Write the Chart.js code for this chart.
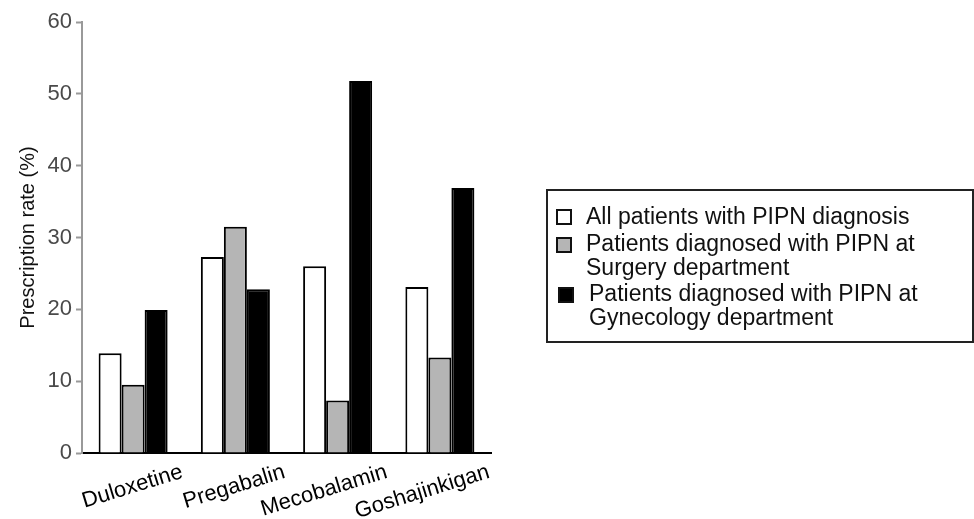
<!DOCTYPE html>
<html>
<head>
<meta charset="utf-8">
<script src="https://cdn.jsdelivr.net/npm/chart.js@4.4.1/dist/chart.umd.min.js"></script>
<style>
  html, body { margin: 0; padding: 0; background: #fff; }
  #wrap { position: relative; width: 974px; height: 519px; }
  #legend {
    position: absolute; left: 546px; top: 189px; width: 424px; height: 150px;
    border: 2px solid #222; font-family: "Liberation Sans", Arial, sans-serif;
    font-size: 23px; line-height: 24px; color: #111;
  }
  .item { position: absolute; left: 38px; }
  .box { position: absolute; width: 12px; height: 12px; border: 2px solid #111; }
</style>
</head>
<body>
<div id="wrap">
  <canvas id="chart" width="974" height="519"></canvas>
  <div id="legend"></div>
</div>
<script>
// drugs on the x axis
const categories = ["Duloxetine", "Pregabalin", "Mecobalamin", "Goshajinkigan"];
const allPatients = [13.9, 27.3, 26.0, 23.1];
const surgeryDept = [9.5, 31.5, 7.3, 13.3];
const gynecologyDept = [19.9, 22.8, 51.8, 36.9];
const yTicks = [0, 10, 20, 30, 40, 50, 60];
const seriesNames = [
  "All patients with PIPN diagnosis",
  "Patients diagnosed with PIPN at\nSurgery department",
  "Patients diagnosed with PIPN at\nGynecology department"
];
const seriesFill = ["#ffffff", "#b5b5b5", "#000000"];

const font = "'Liberation Sans', Arial, sans-serif";

const ctx = document.getElementById("chart").getContext("2d");
new Chart(ctx, {
    type: "bar",
    data: {
        labels: categories,
        datasets: [allPatients, surgeryDept, gynecologyDept].map((vals, i) => ({
            label: seriesNames[i],
            data: vals,
            backgroundColor: seriesFill[i],
            borderColor: "#000",
            borderWidth: 2,
            barPercentage: 1,
            categoryPercentage: 0.675,
        })),
    },
    options: {
        responsive: false,
        animation: false,
        layout: { padding: { top: 22, right: 483, left: 0, bottom: 0 } },
        plugins: { legend: { display: false }, tooltip: { enabled: false } },
        scales: {
            x: {
                grid: { display: false, drawTicks: false },
                border: { color: "#000", width: 2 },
                ticks: {
                    color: "#000",
                    font: { family: font, size: 22 },
                    minRotation: 17,
                    maxRotation: 17,
                    labelOffset: 49,
                    padding: 6,
                },
                afterFit: (scale) => { scale.height = 66; },
            },
            y: {
                min: 0,
                max: 60,
                afterBuildTicks: (scale) => { scale.ticks = yTicks.map(v => ({ value: v })); },
                grid: { drawOnChartArea: false, color: "#999", tickLength: 6, tickWidth: 2 },
                border: { color: "#999", width: 2 },
                ticks: { color: "#4a4a4a", font: { family: font, size: 22 }, padding: 4 },
                title: {
                    display: true,
                    text: "Prescription rate (%)",
                    color: "#111",
                    font: { family: font, size: 20 },
                    padding: { top: 16, bottom: 0 },
                },
                afterFit: (scale) => { scale.width = 82; },
            },
        },
    },
});

// legend drawn as html next to the chart
const legendTops = [13, 40, 90];
const boxTops = [18, 46, 96];
const legend = document.getElementById("legend");
seriesNames.forEach((name, i) => {
    const box = document.createElement("div");
    box.className = "box";
    box.style.left = (i === 2 ? 10 : 8) + "px";
    box.style.top = boxTops[i] + "px";
    box.style.background = seriesFill[i];
    legend.appendChild(box);
    const item = document.createElement("div");
    item.className = "item";
    item.style.top = legendTops[i] + "px";
    if (i === 2) item.style.left = "41px";
    item.innerHTML = name.replace("\n", "<br>");
    legend.appendChild(item);
});
</script>
</body>
</html>
